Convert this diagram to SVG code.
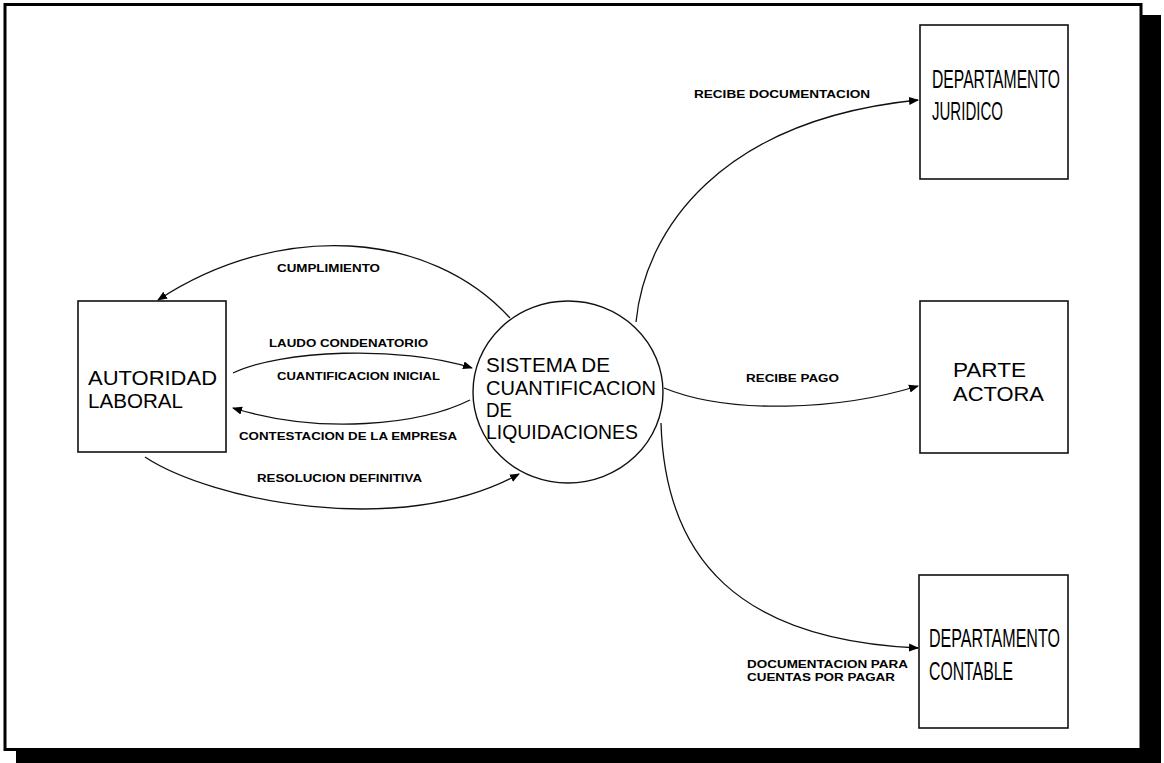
<svg xmlns="http://www.w3.org/2000/svg" width="1164" height="763" viewBox="0 0 1164 763">
<defs>
<style>
.frame{fill:#fff;stroke:#000;stroke-width:3}
.shadow{fill:#000}
.box{fill:none;stroke:#111;stroke-width:1.6}
.circ{fill:none;stroke:#111;stroke-width:1.4}
.edge{fill:none;stroke:#111;stroke-width:1.3}
.big{font-family:"Liberation Sans",Arial,sans-serif;font-size:20px;fill:#000}
.narrow{font-family:"Liberation Sans",Arial,sans-serif;font-size:25px;fill:#000}
.lbl{font-family:"Liberation Sans",Arial,sans-serif;font-size:10px;font-weight:bold;fill:#000}
</style>
<marker id="arr" viewBox="0 0 10 10" refX="9" refY="5" markerWidth="10" markerHeight="10" markerUnits="userSpaceOnUse" orient="auto">
<path d="M0,1 L10,5 L0,9 Z" fill="#000"/>
</marker>
</defs>
<rect class="shadow" x="1141" y="15" width="20" height="748"/>
<rect class="shadow" x="16" y="750" width="1145" height="13"/>
<rect class="frame" x="5" y="4.5" width="1136" height="745"/>

<g id="connectors">
<path class="edge" d="M510 318 C430 230 280 220 158 300" marker-end="url(#arr)"/>
<path class="edge" d="M233 373 C280 350 400 345 472 368" marker-end="url(#arr)"/>
<path class="edge" d="M470 400 C420 425 320 435 233 408" marker-end="url(#arr)"/>
<path class="edge" d="M145 457 C210 500 400 540 519 474" marker-end="url(#arr)"/>
<path class="edge" d="M636 322 C645 230 720 120 918 100" marker-end="url(#arr)"/>
<path class="edge" d="M664 388 C730 415 840 410 918 386" marker-end="url(#arr)"/>
<path class="edge" d="M661 423 C665 560 740 640 918 648" marker-end="url(#arr)"/>
<text class="lbl" x="277" y="272" textLength="103" lengthAdjust="spacingAndGlyphs">CUMPLIMIENTO</text>
<text class="lbl" x="269" y="347" textLength="159" lengthAdjust="spacingAndGlyphs">LAUDO CONDENATORIO</text>
<text class="lbl" x="277" y="380" textLength="163" lengthAdjust="spacingAndGlyphs">CUANTIFICACION INICIAL</text>
<text class="lbl" x="239" y="440" textLength="218" lengthAdjust="spacingAndGlyphs">CONTESTACION DE LA EMPRESA</text>
<text class="lbl" x="257" y="482" textLength="165" lengthAdjust="spacingAndGlyphs">RESOLUCION DEFINITIVA</text>
<text class="lbl" x="694" y="98" textLength="176" lengthAdjust="spacingAndGlyphs">RECIBE DOCUMENTACION</text>
<text class="lbl" x="746" y="382" textLength="93" lengthAdjust="spacingAndGlyphs">RECIBE PAGO</text>
<text class="lbl" x="747" y="668" textLength="161" lengthAdjust="spacingAndGlyphs">DOCUMENTACION PARA</text>
<text class="lbl" x="747" y="681" textLength="148" lengthAdjust="spacingAndGlyphs">CUENTAS POR PAGAR</text>
</g>

<g id="autoridad">
<rect class="box" x="78" y="301" width="148" height="151"/>
<text class="big" x="88" y="385" textLength="129" lengthAdjust="spacingAndGlyphs">AUTORIDAD</text>
<text class="big" x="88" y="408" textLength="95" lengthAdjust="spacingAndGlyphs">LABORAL</text>
</g>

<g id="sistema">
<ellipse class="circ" cx="568" cy="392" rx="95" ry="91"/>
<text class="big" x="486" y="372" textLength="124" lengthAdjust="spacingAndGlyphs">SISTEMA DE</text>
<text class="big" x="486" y="395" textLength="170" lengthAdjust="spacingAndGlyphs">CUANTIFICACION</text>
<text class="big" x="486" y="417" textLength="26" lengthAdjust="spacingAndGlyphs">DE</text>
<text class="big" x="486" y="439" textLength="152" lengthAdjust="spacingAndGlyphs">LIQUIDACIONES</text>
</g>

<g id="juridico">
<rect class="box" x="920" y="25" width="148" height="154"/>
<text class="narrow" x="932" y="88" textLength="128" lengthAdjust="spacingAndGlyphs">DEPARTAMENTO</text>
<text class="narrow" x="932" y="120" textLength="71" lengthAdjust="spacingAndGlyphs">JURIDICO</text>
</g>

<g id="parte">
<rect class="box" x="920" y="301" width="148" height="152"/>
<text class="big" x="953" y="377" textLength="73" lengthAdjust="spacingAndGlyphs">PARTE</text>
<text class="big" x="953" y="401" textLength="91" lengthAdjust="spacingAndGlyphs">ACTORA</text>
</g>

<g id="contable">
<rect class="box" x="919" y="575" width="149" height="153"/>
<text class="narrow" x="929" y="647" textLength="131" lengthAdjust="spacingAndGlyphs">DEPARTAMENTO</text>
<text class="narrow" x="929" y="680" textLength="84" lengthAdjust="spacingAndGlyphs">CONTABLE</text>
</g>
</svg>
